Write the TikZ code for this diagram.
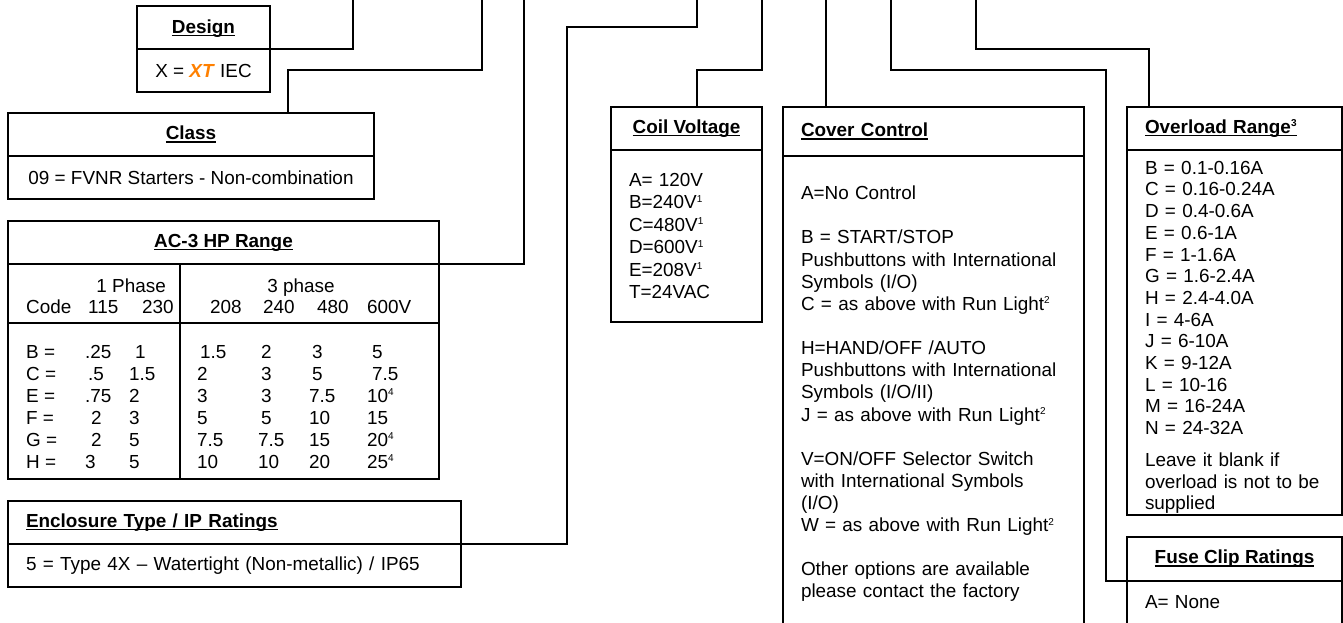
\documentclass[tikz,border=0pt]{standalone}
\usepackage{fontspec}
\setmainfont{Liberation Sans}
\usepackage{xcolor}
\usepackage{tikz}
\definecolor{xtorange}{HTML}{FF8000}
\newsavebox\hdbox
\newcommand\hdtext[1]{\sbox\hdbox{\textbf{#1}}\rlap{\rule[-2.8pt]{\wd\hdbox}{1.3pt}}\usebox\hdbox}
\newcommand\fnm[1]{\raisebox{6.5pt}{\fontsize{10}{10}\selectfont #1}}

\begin{document}
\begin{tikzpicture}[
  x=1pt, y=-1pt,
  every node/.style={font=\fontsize{18.9}{22}\selectfont},
  box/.style={draw, line width=1.3pt, anchor=north west, inner sep=0pt, outer sep=0pt},
  lbox/.style={box, align=left, inner xsep=18pt, text width=#1},
  cell/.style={anchor=base west, inner sep=0pt},
  wire/.style={line width=1.3pt}
]
\useasboundingbox (0,0) rectangle (1343,622);
\clip (0,0) rectangle (1343,622);

% code letters come in along the top edge
\coordinate (t-dsn) at (353,-2);
\coordinate (t-cls) at (482,-2);
\coordinate (t-ac) at (524,-2);
\coordinate (t-enc) at (697,-2);
\coordinate (t-col) at (762,-2);
\coordinate (t-cov) at (826,-2);
\coordinate (t-fus) at (891,-2);
\coordinate (t-ovl) at (976,-2);

% left column
\node[box, minimum width=133pt, minimum height=43pt] (dsn-h) at (137,6) {\rule{0pt}{15pt}\hdtext{Design}};
\node[box, minimum width=133pt, minimum height=43pt] (dsn-b) at (dsn-h.south west) {X = \textcolor{xtorange}{\textbf{\textit{XT}}} IEC};

\node[box, minimum width=366pt, minimum height=43pt] (cls-h) at (8,113) {\hdtext{Class}};
\node[box, minimum width=366pt, minimum height=43pt] (cls-b) at (cls-h.south west) {09 = FVNR Starters - Non-combination};

\node[box, minimum width=431pt, minimum height=43pt] (ac-h) at (8,221) {\hdtext{AC-3 HP Range}};
\node[box, minimum width=431pt, minimum height=215pt] (ac-b) at (ac-h.south west) {};
\draw[wire] ([yshift=-59pt]ac-b.north west) -- ([yshift=-59pt]ac-b.north east);
\draw[wire] ([xshift=172pt]ac-b.north west) -- ([xshift=172pt]ac-b.south west);

\node[cell, anchor=base east] (ph1) at (166,292) {1 Phase};
\node[cell, anchor=base] (ph3) at (301,292) {3 phase};
\foreach \t/\x [count=\k] in {Code/26, 115/88, 230/142, 208/210, 240/263, 480/317, 600V/367}
  \node[cell] (hd\k) at (\x,313) {\t};

\foreach \rc/\vA/\vB/\vC/\vD/\vE/\vF [count=\i from 0] in {
  B/.25/\hspace{6pt}1/\hspace{3pt}1.5/2/\hspace{3pt}3/\hspace{5pt}5,
  C/\hspace{3pt}.5/1.5/2/3/\hspace{3pt}5/\hspace{5pt}7.5,
  E/.75/2/3/3/7.5/10\fnm{4},
  F/\hspace{6pt}2/3/5/5/10/15,
  G/\hspace{6pt}2/5/7.5/\hspace{-3pt}7.5/15/20\fnm{4},
  H/3/5/10/\hspace{-3pt}10/20/25\fnm{4}}
{
  \node[cell] (rc\i) at (26,358+22*\i) {\rc\ =};
  \node[cell] (va\i) at (85,358+22*\i) {\vA};
  \node[cell] (vb\i) at (129,358+22*\i) {\vB};
  \node[cell] (vc\i) at (197,358+22*\i) {\vC};
  \node[cell] (vd\i) at (261,358+22*\i) {\vD};
  \node[cell] (ve\i) at (309,358+22*\i) {\vE};
  \node[cell] (vf\i) at (367,358+22*\i) {\vF};
}

\node[lbox=417pt, minimum height=43pt] (enc-h) at (8,501) {\hdtext{Enclosure Type / IP Ratings}};
\node[lbox=417pt, minimum height=43pt] (enc-b) at (enc-h.south west) {5 = Type 4X – Watertight (Non-metallic) / IP65};

% right part
\node[box, minimum width=151pt, minimum height=43pt] (col-h) at (611,107) {\hdtext{Coil Voltage}};
\node[lbox=115pt, minimum height=172pt, font=\fontsize{18.9}{22.4}\selectfont] (col-b) at (col-h.south west)
  {A= 120V\\ B=240V\fnm{1}\\ C=480V\fnm{1}\\ D=600V\fnm{1}\\ E=208V\fnm{1}\\ T=24VAC};

\node[lbox=265pt, minimum height=49pt] (cov-h) at (783,107) {\hdtext{Cover Control}};
\node[lbox=265pt, minimum height=476pt, font=\fontsize{18.9}{22.15}\selectfont] (cov-b) at (cov-h.south west)
  {A=No Control\\[22pt]
   B = START/STOP\\ Pushbuttons with International\\ Symbols (I/O)\\ C = as above with Run Light\fnm{2}\\[22pt]
   H=HAND/OFF /AUTO\\ Pushbuttons with International\\ Symbols (I/O/II)\\ J = as above with Run Light\fnm{2}\\[22pt]
   V=ON/OFF Selector Switch\\ with International Symbols\\ (I/O)\\ W = as above with Run Light\fnm{2}\\[22pt]
   Other options are available\\ please contact the factory};

\node[lbox=179pt, minimum height=43pt] (ovl-h) at (1127,107) {\hdtext{Overload Range\fnm{3}}};
\node[lbox=179pt, minimum height=365pt, font=\fontsize{18.9}{21.7}\selectfont] (ovl-b) at (ovl-h.south west)
  {\rule{0pt}{23pt}B = 0.1-0.16A\\ C = 0.16-0.24A\\ D = 0.4-0.6A\\ E = 0.6-1A\\ F = 1-1.6A\\ G = 1.6-2.4A\\ H = 2.4-4.0A\\
   I = 4-6A\\ J = 6-10A\\ K = 9-12A\\ L = 10-16\\ M = 16-24A\\ N = 24-32A\\[10pt]
   Leave it blank if\\ overload is not to be\\ supplied};

\node[box, minimum width=215pt, minimum height=44pt] (fus-h) at (1127,537) {\hdtext{Fuse Clip Ratings}};
\node[lbox=179pt, minimum height=43pt] (fus-b) at (fus-h.south west) {A= None};

% connectors
\draw[wire] (dsn-h.south east) -| (t-dsn);
\draw[wire] ([xshift=280pt]cls-h.north west) -- ++(0,-43) -| (t-cls);
\draw[wire] (ac-h.south east) -| (t-ac);
\draw[wire] (enc-h.south east) -| (567,27) -| (t-enc);
\draw[wire] ([xshift=86pt]col-h.north west) -- ++(0,-37) -| (t-col);
\draw[wire] ([xshift=43pt]cov-h.north west) -- (t-cov);
\draw[wire] (fus-h.south west) -| (1106,70) -| (t-fus);
\draw[wire] ([xshift=22pt]ovl-h.north west) -- ++(0,-58) -| (t-ovl);

\end{tikzpicture}
\end{document}
